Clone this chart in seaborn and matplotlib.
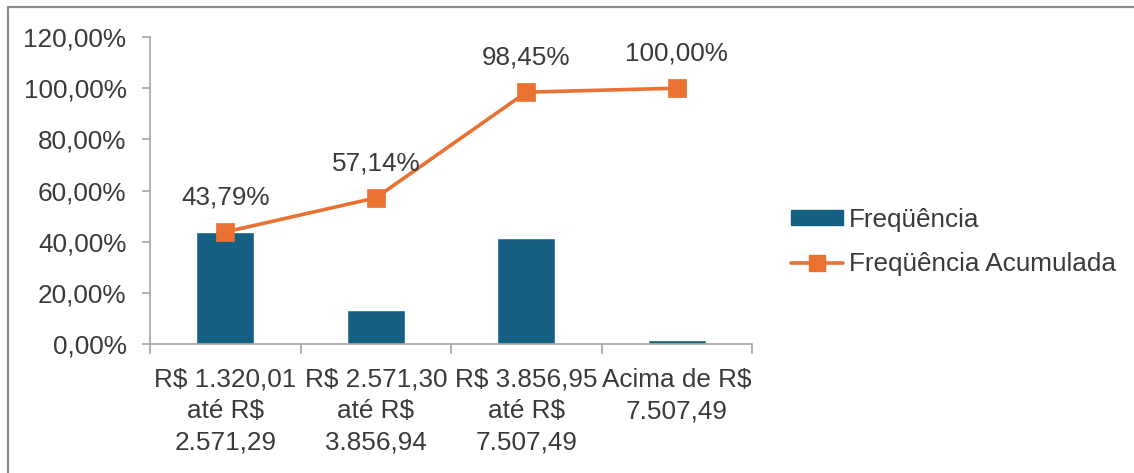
import matplotlib
matplotlib.use('Agg')
import matplotlib.pyplot as plt
from matplotlib.lines import Line2D
from matplotlib.patches import Patch
from matplotlib.ticker import FuncFormatter, FixedLocator
import pandas as pd
import seaborn as sns

# Faixas salariais e frequencias (%)
faixas = ['R$ 1.320,01\naté R$\n2.571,29',
          'R$ 2.571,30\naté R$\n3.856,94',
          'R$ 3.856,95\naté R$\n7.507,49',
          'Acima de R$\n7.507,49']
frequencia = [43.79, 13.35, 41.31, 1.55]
acumulada = [43.79, 57.14, 98.45, 100.00]

df = pd.DataFrame({'faixa': faixas, 'freq': frequencia, 'acum': acumulada})

sns.set_style('white')
plt.rcParams['font.family'] = ['Liberation Sans', 'DejaVu Sans']

azul = '#156082'
laranja = '#E97132'
cinza_txt = '#3A3A3A'
cinza_eixo = '#A6A6A6'
fs = 18.8

fig = plt.figure(figsize=(11.34, 4.73), dpi=100)
ax = fig.add_axes([0.1323, 0.2727, 0.531, 0.649])

sns.barplot(data=df, x='faixa', y='freq', color=azul, width=0.385,
            saturation=1, ax=ax)
sns.pointplot(data=df, x='faixa', y='acum', color=laranja, markers='s',
              markersize=11, linewidth=2.6, ax=ax)

# rotulos de dados da linha acumulada
for i, v in enumerate(acumulada):
    ax.annotate(f'{v:.2f}%'.replace('.', ','), (i, v), xytext=(0, 25),
                textcoords='offset points', ha='center', va='center',
                fontsize=fs, color=cinza_txt)

ax.set_ylim(0, 120)
ax.set_xlim(-0.5, 3.5)
ax.yaxis.set_major_locator(FixedLocator([0, 20, 40, 60, 80, 100, 120]))
ax.yaxis.set_major_formatter(FuncFormatter(lambda v, p: f'{v:.2f}%'.replace('.', ',')))
ax.set_xlabel('')
ax.set_ylabel('')

for s in ['top', 'right']:
    ax.spines[s].set_visible(False)
for s in ['left', 'bottom']:
    ax.spines[s].set_color(cinza_eixo)
    ax.spines[s].set_linewidth(1.2)

ax.tick_params(axis='y', which='major', left=True, length=6, width=1.2,
               color=cinza_eixo, pad=11, labelsize=fs, labelcolor=cinza_txt)
ax.tick_params(axis='x', which='major', bottom=False, length=0, pad=17,
               labelsize=fs, labelcolor=cinza_txt)
ax.xaxis.set_minor_locator(FixedLocator([-0.5, 0.5, 1.5, 2.5, 3.5]))
ax.tick_params(axis='x', which='minor', bottom=True, length=7, width=1.2,
               color=cinza_eixo)
for lbl in ax.get_xticklabels():
    lbl.set_linespacing(1.4)

# legenda
handles = [Patch(facecolor=azul, edgecolor=azul),
           Line2D([0], [0], color=laranja, lw=2.6, marker='s', markersize=11)]
fig.legend(handles, ['Freqüência', 'Freqüência Acumulada'],
           loc='center left', bbox_to_anchor=(0.677, 0.489), frameon=False,
           fontsize=fs, handlelength=1.97, handleheight=0.5,
           handletextpad=0.25, labelspacing=0.78, labelcolor=cinza_txt)

# moldura (bordas esquerda e superior)
fig.add_artist(Line2D([8 / 1134, 8 / 1134], [0, 1 - 7 / 473],
                      transform=fig.transFigure, color='#8C8C8C', lw=1.6))
fig.add_artist(Line2D([8 / 1134, 1], [1 - 7 / 473, 1 - 7 / 473],
                      transform=fig.transFigure, color='#8C8C8C', lw=1.6))

fig.savefig('out.png', dpi=100)
